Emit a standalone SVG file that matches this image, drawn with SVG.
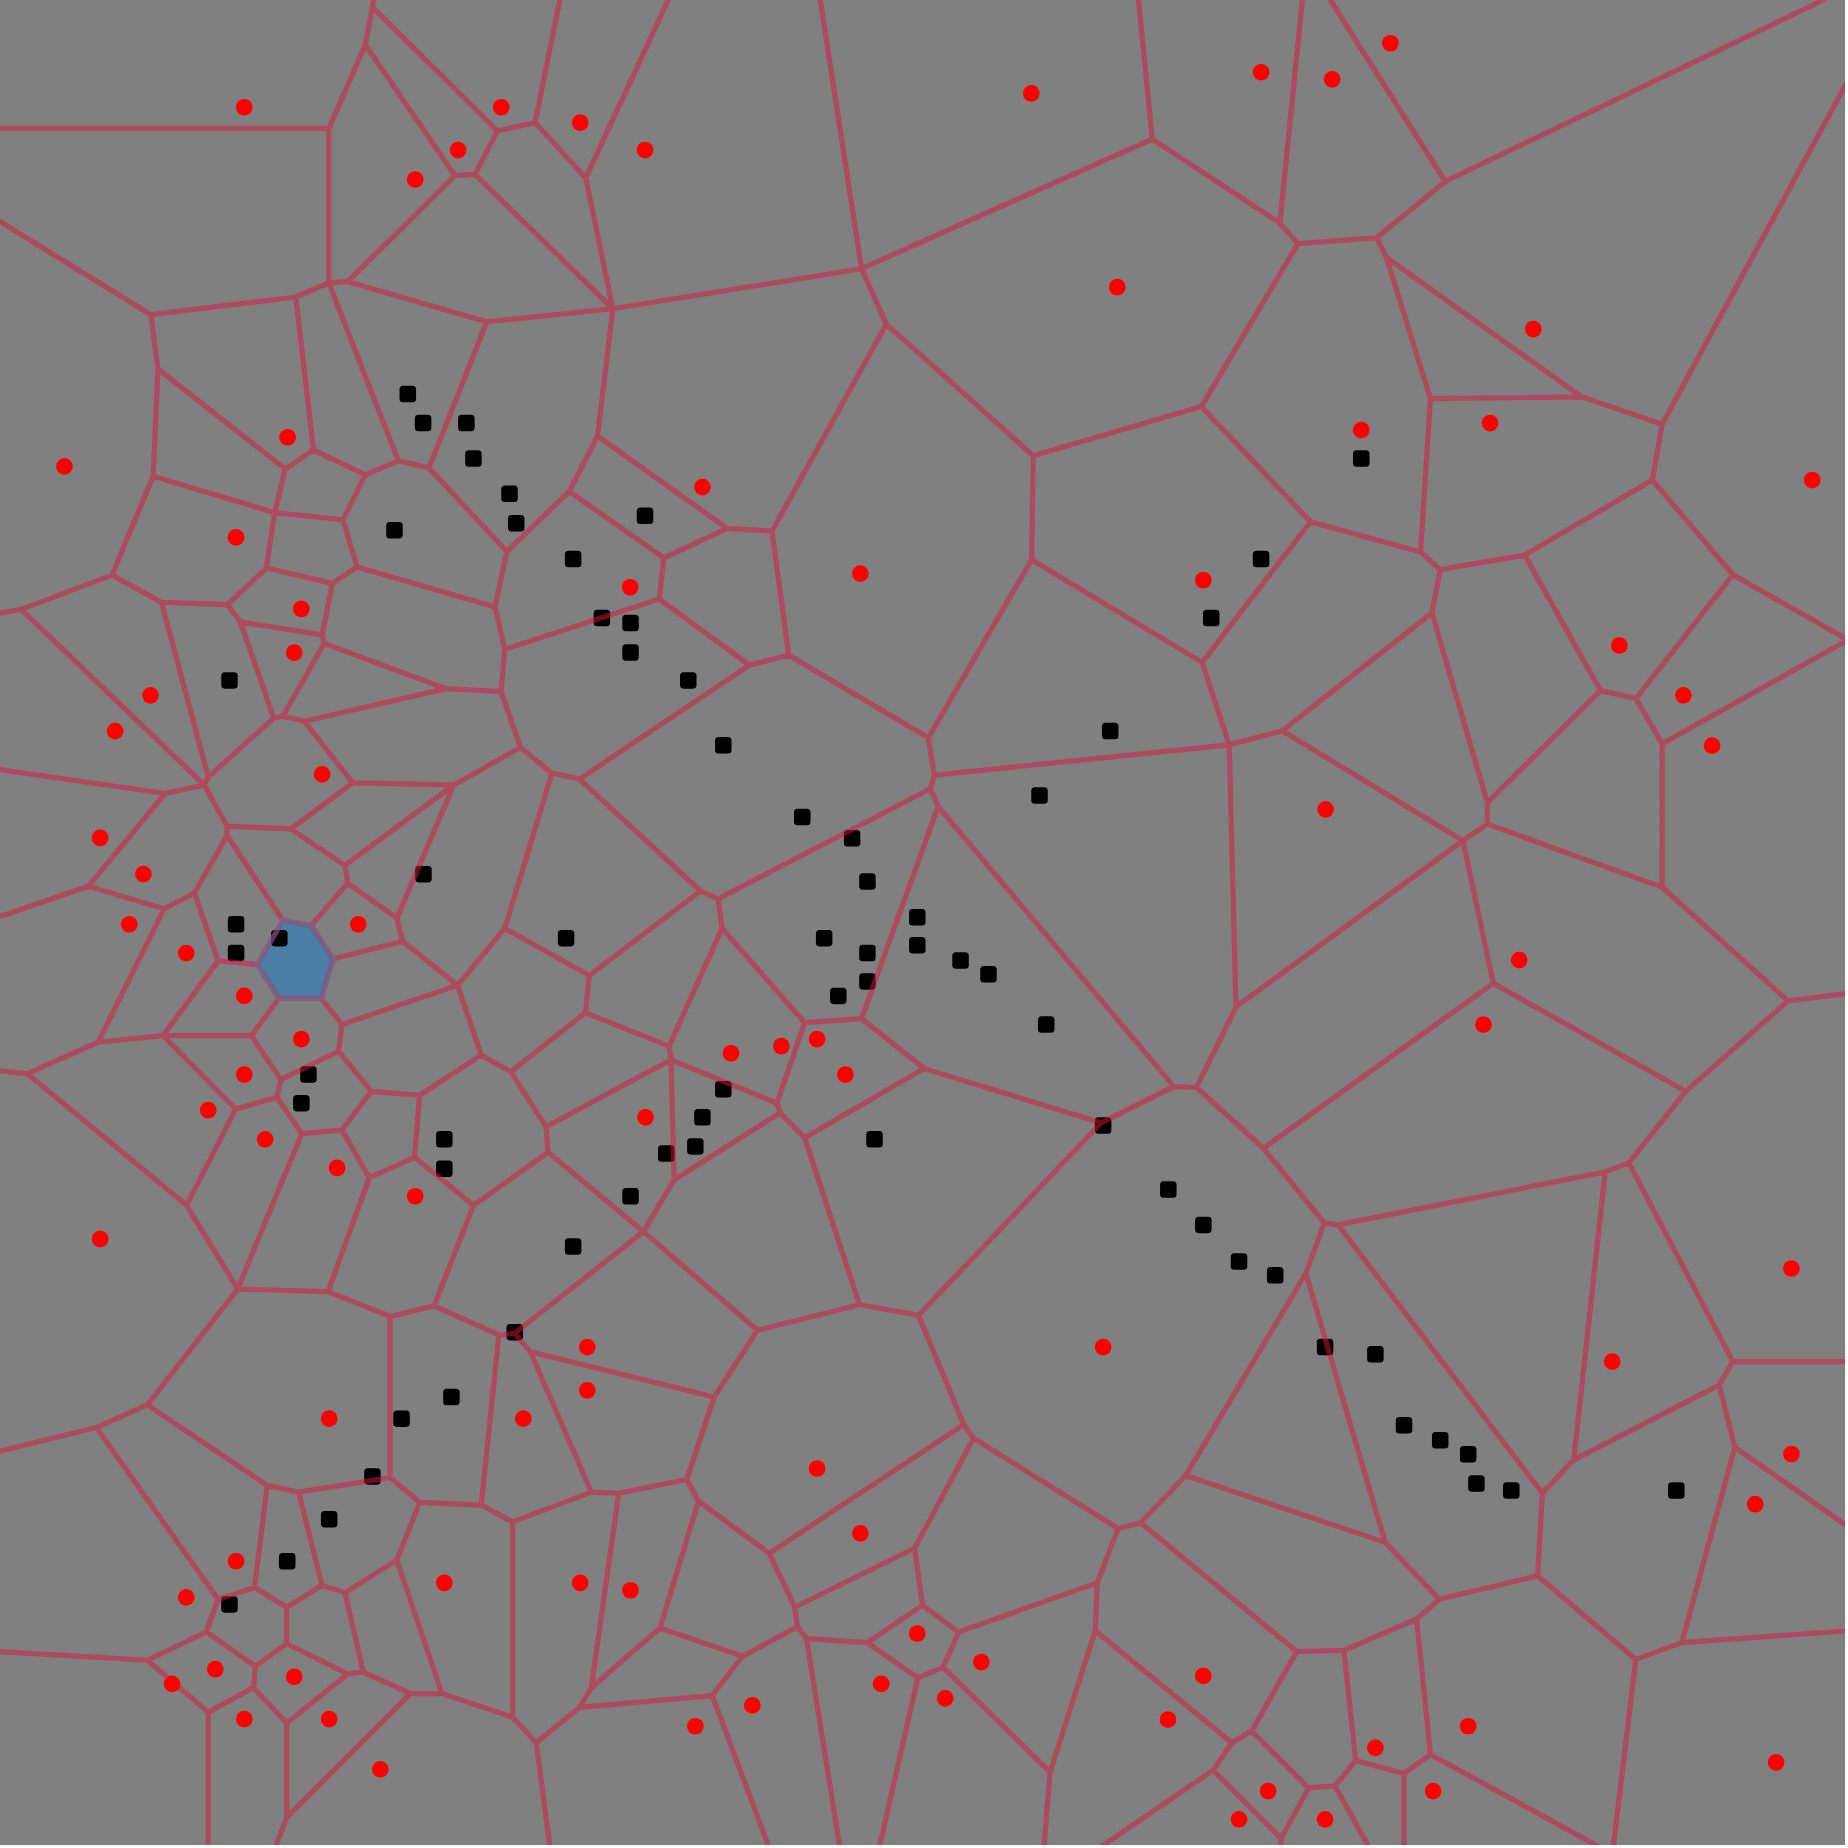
<svg xmlns="http://www.w3.org/2000/svg" width="1848" height="1848" viewBox="0 0 1848 1848">
<style>
.e{fill:none;stroke:#dc143c;stroke-opacity:0.5;stroke-width:4.4;stroke-linecap:round;stroke-linejoin:round}
.s{fill:#ff0000}
.p{fill:#000000}
.cellfill{fill:#4a7ea6;stroke:none}
.cellline{fill:none;stroke:#4682b4;stroke-opacity:0.4;stroke-width:4.4;stroke-linejoin:round}
</style>
<defs>
<clipPath id="clip"><rect x="0" y="0" width="1565.5" height="1565.5"/></clipPath>
<rect id="sq" x="-7" y="-7" width="14" height="14" rx="3"/>
</defs>
<rect x="0" y="0" width="1848" height="1848" fill="#ffffff"/>
<g transform="scale(1.178571)">
<rect x="0" y="0" width="1565.5" height="1565.5" fill="#808080"/>
<g id="highlight-cell-fill">
<polygon class="cellfill" points="240,781 264,785.3 282.7,813.7 272.7,847 236.7,847 218.3,818.3"/>
</g>
<g id="path-points" class="p">
<use href="#sq" x="346" y="334.3"/><use href="#sq" x="359" y="359"/><use href="#sq" x="395.7" y="359"/><use href="#sq" x="401.7" y="389"/><use href="#sq" x="432.3" y="419"/><use href="#sq" x="438" y="444"/><use href="#sq" x="334.7" y="450"/><use href="#sq" x="547.3" y="437.7"/><use href="#sq" x="486.3" y="474.3"/><use href="#sq" x="510.7" y="524.3"/><use href="#sq" x="535" y="528.7"/><use href="#sq" x="535" y="553.7"/><use href="#sq" x="584" y="577.3"/><use href="#sq" x="194.7" y="577.3"/><use href="#sq" x="1155" y="389"/><use href="#sq" x="1070" y="474.3"/><use href="#sq" x="1027.7" y="524.3"/><use href="#sq" x="613.7" y="632.3"/><use href="#sq" x="942" y="620.3"/><use href="#sq" x="882" y="675"/><use href="#sq" x="680.7" y="693.3"/><use href="#sq" x="723" y="711.3"/><use href="#sq" x="736" y="748"/><use href="#sq" x="359.3" y="741.7"/><use href="#sq" x="778.3" y="778.3"/><use href="#sq" x="200.3" y="784.3"/><use href="#sq" x="237" y="796"/><use href="#sq" x="200.3" y="808.7"/><use href="#sq" x="480.3" y="796"/><use href="#sq" x="699.3" y="796"/><use href="#sq" x="736" y="808.7"/><use href="#sq" x="778.3" y="802"/><use href="#sq" x="815" y="815"/><use href="#sq" x="838.7" y="826.7"/><use href="#sq" x="736" y="832.7"/><use href="#sq" x="711.3" y="845"/><use href="#sq" x="887.7" y="869.3"/><use href="#sq" x="261.7" y="911.7"/><use href="#sq" x="255.7" y="936"/><use href="#sq" x="613.7" y="924.3"/><use href="#sq" x="596" y="948"/><use href="#sq" x="936" y="955"/><use href="#sq" x="742" y="966.7"/><use href="#sq" x="377" y="966.7"/><use href="#sq" x="590" y="972.7"/><use href="#sq" x="565.3" y="978.7"/><use href="#sq" x="377" y="991.7"/><use href="#sq" x="991.3" y="1009.3"/><use href="#sq" x="535" y="1015"/><use href="#sq" x="1021" y="1039.3"/><use href="#sq" x="486.3" y="1057.7"/><use href="#sq" x="1051.3" y="1070.3"/><use href="#sq" x="1082" y="1082"/><use href="#sq" x="436.7" y="1130.3"/><use href="#sq" x="1124.3" y="1143"/><use href="#sq" x="1167" y="1149"/><use href="#sq" x="383" y="1185.3"/><use href="#sq" x="340.7" y="1203.7"/><use href="#sq" x="1191.3" y="1209.3"/><use href="#sq" x="1222" y="1222"/><use href="#sq" x="1245.7" y="1234"/><use href="#sq" x="316" y="1252.7"/><use href="#sq" x="1252.7" y="1258.7"/><use href="#sq" x="1282.3" y="1264.7"/><use href="#sq" x="1422.3" y="1264.7"/><use href="#sq" x="279.3" y="1289"/><use href="#sq" x="243.7" y="1324.7"/><use href="#sq" x="194.7" y="1361.3"/>
</g>
<g clip-path="url(#clip)">
<g id="edges">
<path class="e" d="M317 0L316 6M316 6L310 38M316 6L422 111M310 38L279 109M310 38L386 149M0 109L279 109M279 109L279 240M386 149L403 148M386 149L295 239M403 148L422 111M403 148L520 262M422 111L454 104M454 104L475 0M454 104L497 151M497 151L567 0M497 151L520 262M520 262L413 273M520 262L731 228M520 262L507 370M279 240L295 239M279 240L251 252M279 240L338 391M295 239L413 273M251 252L128 267M251 252L266 382M128 267L0 188M128 267L134 313M134 313L130 404M134 313L242 398M242 398L266 382M242 398L233 435M266 382L310 403M310 403L338 391M310 403L291 441M338 391L364 397M413 273L364 397M364 397L430 468M507 370L483 417M507 370L617 448.3M483 417L430 468M483 417L563.3 473.3M430 468L420 515M130 404L233 435M130 404L95 488M291 441L233 435M291 441L303 481M233 435L226 482M303 481L420 515M303 481L282 495M226 482L282 495M226 482L193 513M95 488L137 511M95 488L18 517M18 517L0 520M137 511L193 513M193 513L204 527.7M282 495L273.3 538.7M204 527.7L273.3 538.7M273.3 538.7L275 546M204 527.7L232.3 609.3M275 546L240 607.7M275 546L378.3 584.3M232.3 609.3L240 607.7M240 607.7L258.3 612M258.3 612L378.3 584.3M258.3 612L299.3 664.3M232.3 609.3L176.7 659.3M137 511L176.7 659.3M18 517L173.3 666M176.7 659.3L173.3 666M173.3 666L140 673.3M140 673.3L0 653M140 673.3L75 752M75 752L0 777.7M75 752L139.3 771M139.3 771L165 757.7M139.3 771L83.3 884.3M173.3 666L192.7 701M192.7 701L246.7 703.3M192.7 701L192.7 708.7M192.7 708.7L165 757.7M192.7 708.7L240 781M165 757.7L185 815.3M246.7 703.3L299.3 664.3M246.7 703.3L292.7 734.3M299.3 664.3L385 666M378.3 584.3L425 586.7M425 586.7L428.3 551M425 586.7L441.7 634.3M420 515L428.3 551M428.3 551L559.3 508.3M441.7 634.3L385 666M441.7 634.3L468.3 656M468.3 656L491.7 661M468.3 656L428.3 787.7M385 666L292.7 734.3M385 666L336.7 779M292.7 734.3L295 749.3M295 749.3L336.7 779M295 749.3L264 785.3M336.7 779L341.7 798.7M341.7 798.7L282.7 813.7M341.7 798.7L388.3 836M428.3 787.7L388.3 836M428.3 787.7L500 827.7M240 781L264 785.3L282.7 813.7L272.7 847L236.7 847L218.3 818.3Z M218.3 818.3L185 815.3M185 815.3L138.3 878.7M138.3 878.7L213.3 878.7M138.3 878.7L83.3 884.3M138.3 878.7L200 941M213.3 878.7L236.7 847M213.3 878.7L238.3 916M238.3 916L287.3 892M238.3 916L235 931M235 931L200 941M235 931L256 962M256 962L290 958.7M256 962L201.7 1093.7M200 941L158.3 1022.7M158.3 1022.7L23.3 911M158.3 1022.7L201.7 1093.7M23.3 911L0 908.7M23.3 911L83.3 884.3M272.7 847L290 869.3M290 869.3L287.3 892M290 869.3L388.3 836M287.3 892L315 926M315 926L356 929.3M315 926L290 958.7M290 958.7L313.3 999.3M313.3 999.3L351.7 982M313.3 999.3L278.3 1096M351.7 982L356 929.3M351.7 982L401.7 1022.7M356 929.3L408.3 895.3M408.3 895.3L388.3 836M408.3 895.3L433.3 909.3M500 827.7L594.3 756M500 827.7L496.7 859.3M496.7 859.3L433.3 909.3M496.7 859.3L567.7 887.7M433.3 909.3L463.3 956M463.3 956L465 977.7M463.3 956L569.3 899.3M465 977.7L401.7 1022.7M465 977.7L546 1045M617 448.3L655 450.7M617 448.3L563.3 473.3M563.3 473.3L559.3 508.3M559.3 508.3L636 564.3M636 564.3L669.3 556M636 564.3L491.7 661M491.7 661L594.3 756M594.3 756L609.3 762.7M655 450.7L752 275M655 450.7L669.3 556M731 228L696 0M731 228L977.7 118M731 228L752 275M752 275L876.7 386.7M977.7 118L966 0M977.7 118L1086 189.3M1086 189.3L1105 0M1086 189.3L1101.3 206.7M1101.3 206.7L1168 201.7M1101.3 206.7L1019.3 345M1168 201.7L1226.3 154M1168 201.7L1176.3 218.3M1226.3 154L1128.7 0M1226.3 154L1547 0M1176.3 218.3L1342 336.7M1176.3 218.3L1213.7 338.3M1213.7 338.3L1342 336.7M1213.7 338.3L1205.3 468.3M1342 336.7L1410.3 360M1410.3 360L1568 68M1410.3 360L1402 407.3M1402 407.3L1293.7 471M1402 407.3L1470.3 487.7M1205.3 468.3L1222 483.3M1205.3 468.3L1112 442.7M1222 483.3L1293.7 471M1222 483.3L1215 520M1293.7 471L1358 586M1470.3 487.7L1568 543M1470.3 487.7L1388 592.7M1112 442.7L1019.3 345M1112 442.7L1020 562M1019.3 345L876.7 386.7M876.7 386.7L875.3 475M875.3 475L787.7 626M875.3 475L1020 562M1020 562L1043 632M1043 632L1088 620M1043 632L1048.7 854.3M1043 632L792.7 657.7M1088 620L1215 520M1088 620L1241.3 713.3M1215 520L1262 681M1262 681L1358 586M1262 681L1262 699.3M1262 699.3L1241.3 713.3M1262 699.3L1410.3 752.7M1358 586L1388 592.7M1388 592.7L1410.3 631M1410.3 631L1568 543M1410.3 631L1410.3 752.7M1410.3 752.7L1517 849.3M1517 849.3L1568 842.7M1517 849.3L1430.3 926M1241.3 713.3L1048.7 854.3M1241.3 713.3L1267 834.3M1267 834.3L1430.3 926M1267 834.3L1072 974.3M1048.7 854.3L1015.3 922.7M1015.3 922.7L996 922M1015.3 922.7L1072 974.3M996 922L934.3 952.7M996 922L796 684.3M1072 974.3L1123.7 1037.7M1430.3 926L1382 986.7M1382 986.7L1362 994.3M1382 986.7L1470.3 1155.3M1362 994.3L1135.3 1039.3M1362 994.3L1335.3 1238.7M1135.3 1039.3L1123.7 1037.7M1135.3 1039.3L1308.7 1267M1123.7 1037.7L1108 1080.3M1108 1080.3L1006 1252M1108 1080.3L1175.3 1308.7M1470.3 1155.3L1568 1155.3M1470.3 1155.3L1458.7 1175.3M1458.7 1175.3L1335.3 1238.7M1458.7 1175.3L1472 1228M1335.3 1238.7L1308.7 1267M1308.7 1267L1304.7 1337M1304.7 1337L1221.3 1357M1304.7 1337L1388 1408M1388 1408L1427 1393.7M1427 1393.7L1568 1383.7M1427 1393.7L1472 1228M1472 1228L1568 1295.3M1388 1408L1368.7 1568M1221.3 1357L1175.3 1308.7M1221.3 1357L1202 1373.7M1202 1373.7L1140.3 1400.3M1202 1373.7L1213.7 1488.7M1213.7 1488.7L1191.3 1504.7M1213.7 1488.7L1358.7 1568M1191.3 1504.7L1150.3 1493.7M1191.3 1504.7L1191.3 1568M1150.3 1493.7L1140.3 1400.3M1150.3 1493.7L1132.7 1515.3M1132.7 1515.3L1110.3 1517M1132.7 1515.3L1162 1568M1110.3 1517L1062 1468.7M1110.3 1517L1087 1560M1140.3 1400.3L1100.3 1401.3M1100.3 1401.3L1062 1468.7M1100.3 1401.3L967.7 1292M1062 1468.7L1045.3 1478.7M1045.3 1478.7L929.3 1383.7M1045.3 1478.7L1029.3 1502M1029.3 1502L932.7 1568M1029.3 1502L1087 1560M1087 1560L1087 1568M1175.3 1308.7L1006 1252M1006 1252L967.7 1292M967.7 1292L948.7 1297M948.7 1297L931 1343M948.7 1297L826 1220.3M931 1343L929.3 1383.7M931 1343L813.3 1384.7M929.3 1383.7L891 1503.7M891 1503.7L800.3 1414.7M891 1503.7L885.7 1568M813.3 1384.7L782.7 1362M813.3 1384.7L800.3 1414.7M782.7 1362L776 1313.7M782.7 1362L736 1393.7M776 1313.7L826 1220.3M776 1313.7L674.3 1363.7M800.3 1414.7L778.7 1423.7M778.7 1423.7L736 1393.7M778.7 1423.7L746 1568M736 1393.7L684.3 1390.3M684.3 1390.3L676.7 1380.3M684.3 1390.3L712.7 1568M676.7 1380.3L674.3 1363.7M676.7 1380.3L630 1405.3M674.3 1363.7L652.7 1318M652.7 1318L817.7 1208.7M652.7 1318L592.7 1273.7M817.7 1208.7L826 1220.3M817.7 1208.7L779.3 1116M630 1405.3L560 1381.3M630 1405.3L604.3 1438.7M604.3 1438.7L491.7 1448.7M604.3 1438.7L652.7 1568M560 1381.3L592.7 1273.7M560 1381.3L501.7 1432M592.7 1273.7L582.7 1255.3M582.7 1255.3L606 1185.3M582.7 1255.3L525 1267M606 1185.3L642.7 1128.7M606 1185.3L450 1147M642.7 1128.7L729.3 1107M642.7 1128.7L546 1045M729.3 1107L779.3 1116M729.3 1107L682.7 965.3M779.3 1116L934.3 952.7M669.3 556L787.7 626M787.7 626L792.7 657.7M792.7 657.7L789.3 669.3M789.3 669.3L609.3 762.7M789.3 669.3L796 684.3M796 684.3L731 864.3M609.3 762.7L612.7 787.7M612.7 787.7L682.7 867.7M612.7 787.7L567.7 887.7M567.7 887.7L569.3 899.3M569.3 899.3L659.3 936M569.3 899.3L572 1001M682.7 867.7L731 864.3M682.7 867.7L659.3 936M659.3 936L662 944.3M662 944.3L572 1001M662 944.3L682.7 965.3M731 864.3L784.3 906.7M784.3 906.7L682.7 965.3M784.3 906.7L934.3 952.7M572 1001L546 1045M546 1045L436.7 1131.3M368.3 1108L423.3 1132.7M423.3 1132.7L436.7 1131.3M423.3 1132.7L408.3 1277M436.7 1131.3L450 1147M450 1147L501.7 1266M501.7 1266L525 1267M501.7 1266L435 1291.3M525 1267L501.7 1432M501.7 1432L491.7 1448.7M491.7 1448.7L455 1478.7M455 1478.7L435 1457M455 1478.7L466.7 1568M435 1457L435 1291.3M435 1457L375 1437M435 1291.3L408.3 1277M408.3 1277L356 1274.7M356 1274.7L331 1253.7M356 1274.7L336.7 1323.7M331 1253.7L331 1117M331 1253.7L253.3 1266M331 1117L278.3 1096M331 1117L368.3 1108M368.3 1108L401.7 1022.7M278.3 1096L201.7 1093.7M336.7 1323.7L292.7 1351.3M336.7 1323.7L375 1437M375 1437L348.3 1437M348.3 1437L308.3 1418.7M348.3 1437L243.3 1542M292.7 1351.3L273.3 1345.3M292.7 1351.3L308.3 1418.7M273.3 1345.3L253.3 1266M273.3 1345.3L243.3 1363.7M253.3 1266L226.7 1260.3M243.3 1363.7L216 1347M243.3 1363.7L243.3 1394.7M216 1347L226.7 1260.3M216 1347L185 1357M185 1357L81.7 1211.3M185 1357L175 1384.7M175 1384.7L125 1408.7M175 1384.7L216.7 1413.7M216.7 1413.7L243.3 1394.7M216.7 1413.7L215 1432M243.3 1394.7L295 1420.3M295 1420.3L308.3 1418.7M295 1420.3L243.3 1462M215 1432L176.7 1452.7M215 1432L243.3 1462M243.3 1462L243.3 1542M243.3 1542L233.3 1568M125 1408.7L0 1401.3M125 1408.7L176.7 1452.7M176.7 1452.7L176.7 1568M125 1192L81.7 1211.3M81.7 1211.3L0 1231.3M125 1192L201.7 1093.7M125 1192L226.7 1260.3"/>
</g>
<g id="highlight-cell-border">
<polygon class="cellline" points="240,781 264,785.3 282.7,813.7 272.7,847 236.7,847 218.3,818.3"/>
</g>
</g>
<g id="sites">
<circle class="s" cx="207.3" cy="91" r="7.1"/><circle class="s" cx="425.3" cy="91" r="7.1"/><circle class="s" cx="492.3" cy="104" r="7.1"/><circle class="s" cx="388.7" cy="127.3" r="7.1"/><circle class="s" cx="352.3" cy="152.3" r="7.1"/><circle class="s" cx="547.3" cy="127.3" r="7.1"/><circle class="s" cx="875" cy="79.3" r="7.1"/><circle class="s" cx="1070" cy="61.3" r="7.1"/><circle class="s" cx="1130.3" cy="67.3" r="7.1"/><circle class="s" cx="1179.7" cy="36.7" r="7.1"/><circle class="s" cx="948" cy="243.7" r="7.1"/><circle class="s" cx="1301" cy="279.3" r="7.1"/><circle class="s" cx="1155" cy="365" r="7.1"/><circle class="s" cx="1264.3" cy="359" r="7.1"/><circle class="s" cx="1537.7" cy="407.3" r="7.1"/><circle class="s" cx="54.7" cy="395.7" r="7.1"/><circle class="s" cx="244" cy="371" r="7.1"/><circle class="s" cx="596" cy="413.3" r="7.1"/><circle class="s" cx="200.3" cy="456" r="7.1"/><circle class="s" cx="730" cy="486.7" r="7.1"/><circle class="s" cx="1021" cy="492.3" r="7.1"/><circle class="s" cx="534.7" cy="498.3" r="7.1"/><circle class="s" cx="255.7" cy="516.7" r="7.1"/><circle class="s" cx="249.7" cy="553.7" r="7.1"/><circle class="s" cx="127.7" cy="590" r="7.1"/><circle class="s" cx="1374" cy="547.7" r="7.1"/><circle class="s" cx="1428.3" cy="590" r="7.1"/><circle class="s" cx="97.7" cy="620.3" r="7.1"/><circle class="s" cx="1452.7" cy="632.7" r="7.1"/><circle class="s" cx="273.3" cy="657" r="7.1"/><circle class="s" cx="1124.7" cy="686.7" r="7.1"/><circle class="s" cx="85" cy="711" r="7.1"/><circle class="s" cx="121.7" cy="741.7" r="7.1"/><circle class="s" cx="109.7" cy="784.3" r="7.1"/><circle class="s" cx="304" cy="784.3" r="7.1"/><circle class="s" cx="158" cy="808.7" r="7.1"/><circle class="s" cx="1289" cy="814.7" r="7.1"/><circle class="s" cx="207.3" cy="845" r="7.1"/><circle class="s" cx="1258.7" cy="869.3" r="7.1"/><circle class="s" cx="255.7" cy="881.7" r="7.1"/><circle class="s" cx="620.3" cy="893.7" r="7.1"/><circle class="s" cx="663" cy="887.7" r="7.1"/><circle class="s" cx="693.3" cy="881.7" r="7.1"/><circle class="s" cx="207.3" cy="911.7" r="7.1"/><circle class="s" cx="717.3" cy="911.7" r="7.1"/><circle class="s" cx="176.7" cy="942" r="7.1"/><circle class="s" cx="547.7" cy="948" r="7.1"/><circle class="s" cx="225" cy="966.7" r="7.1"/><circle class="s" cx="286" cy="991" r="7.1"/><circle class="s" cx="352.3" cy="1015" r="7.1"/><circle class="s" cx="85" cy="1051.3" r="7.1"/><circle class="s" cx="1520" cy="1076.3" r="7.1"/><circle class="s" cx="498.3" cy="1143" r="7.1"/><circle class="s" cx="936" cy="1143" r="7.1"/><circle class="s" cx="1368" cy="1155.3" r="7.1"/><circle class="s" cx="498.3" cy="1179.7" r="7.1"/><circle class="s" cx="279.3" cy="1203.7" r="7.1"/><circle class="s" cx="444" cy="1203.7" r="7.1"/><circle class="s" cx="1520" cy="1233.7" r="7.1"/><circle class="s" cx="693.3" cy="1246" r="7.1"/><circle class="s" cx="1489.3" cy="1276.3" r="7.1"/><circle class="s" cx="730" cy="1301" r="7.1"/><circle class="s" cx="200.3" cy="1324.7" r="7.1"/><circle class="s" cx="377" cy="1343" r="7.1"/><circle class="s" cx="492.3" cy="1343" r="7.1"/><circle class="s" cx="535" cy="1349.3" r="7.1"/><circle class="s" cx="158" cy="1355.3" r="7.1"/><circle class="s" cx="778.3" cy="1386" r="7.1"/><circle class="s" cx="832.7" cy="1410.3" r="7.1"/><circle class="s" cx="182.7" cy="1416.3" r="7.1"/><circle class="s" cx="249.7" cy="1422.7" r="7.1"/><circle class="s" cx="146" cy="1428.7" r="7.1"/><circle class="s" cx="747.7" cy="1428.7" r="7.1"/><circle class="s" cx="1021" cy="1422" r="7.1"/><circle class="s" cx="802" cy="1441" r="7.1"/><circle class="s" cx="638.3" cy="1447" r="7.1"/><circle class="s" cx="207.3" cy="1458.7" r="7.1"/><circle class="s" cx="279.3" cy="1458.7" r="7.1"/><circle class="s" cx="991" cy="1459" r="7.1"/><circle class="s" cx="590" cy="1464.7" r="7.1"/><circle class="s" cx="1245.7" cy="1464.7" r="7.1"/><circle class="s" cx="1167" cy="1483" r="7.1"/><circle class="s" cx="322.7" cy="1501.3" r="7.1"/><circle class="s" cx="1507" cy="1495.3" r="7.1"/><circle class="s" cx="1076" cy="1519.7" r="7.1"/><circle class="s" cx="1216" cy="1519.7" r="7.1"/><circle class="s" cx="1051.3" cy="1543.7" r="7.1"/><circle class="s" cx="1124.3" cy="1543.7" r="7.1"/>
</g>
</g>
</svg>
